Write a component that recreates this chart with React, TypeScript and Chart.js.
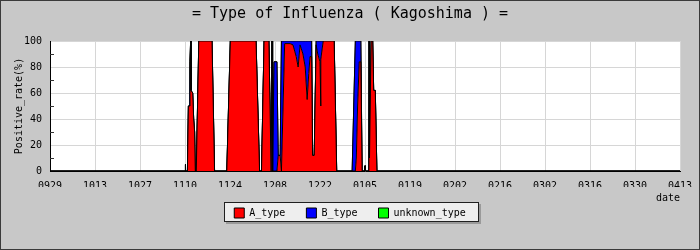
import React, { useEffect, useRef } from 'react';
import { Chart, registerables } from 'chart.js';

Chart.register(...registerables);

const titleText = '= Type of Influenza ( Kagoshima ) =';
const seriesNames = ['A_type', 'B_type', 'unknown_type'];
const seriesColors = ['#ff0000', '#0000ff', '#00ff00'];
const tickLabels = ['0929', '1013', '1027', '1110', '1124', '1208', '1222', '0105', '0119', '0202', '0216', '0302', '0316', '0330', '0413'];
const yTitle = 'Positive_rate(%)';
const xTitle = 'date';

// day offsets from 09/29
const days = [
  0, 42.0, 42.1, 42.2, 42.75, 43.05, 43.35, 43.55, 43.75, 43.85,
  44.4, 44.7, 45.0, 45.2, 45.5, 46.3, 50.4, 51.2, 55.0, 56.1,
  64.1, 65.2, 65.8, 66.6, 68.1, 68.8, 69.0, 69.1, 69.2, 69.3,
  69.7, 70.6, 71.0, 71.6, 72.0, 73.0, 74.7, 75.6, 76.6, 77.2,
  77.8, 78.7, 79.4, 80.0, 80.5, 80.9, 81.4, 81.7, 82.2, 82.8,
  83.3, 84.0, 84.2, 84.3, 85.0, 88.4, 89.2, 94.0, 95.0, 95.3,
  95.7, 96.2, 96.7, 97.1, 97.9, 98.0, 98.1, 99.2, 99.3, 99.4,
  99.9, 100.4, 100.7, 101.2, 101.7, 196,
];
const aType = [
  0, 0, 5, 0, 0, 50, 50, 84, 100, 62,
  60, 40, 30, 0, 0, 100, 100, 0, 0, 100,
  100, 0, 0, 100, 100, 0, 0, 100, 0, 0,
  0, 0, 12, 12, 0, 98, 98, 97, 88, 80,
  97, 90, 80, 55, 75, 88, 88, 12, 12, 97,
  90, 84, 50, 86, 100, 100, 0, 0, 0, 10,
  50, 84, 84, 0, 0, 4, 0, 0, 100, 10,
  100, 100, 62, 62, 0, 0,
];
const bType = [
  0, 0, 0, 0, 0, 0, 0, 0, 0, 0,
  0, 0, 0, 0, 0, 0, 0, 0, 0, 0,
  0, 0, 0, 0, 0, 0, 0, 0, 0, 0,
  84, 84, 0, 0, 100, 2, 2, 3, 12, 20,
  3, 10, 20, 45, 25, 12, 12, 0, 0, 3,
  10, 16, 50, 14, 0, 0, 0, 0, 100, 90,
  50, 16, 16, 0, 0, 0, 0, 0, 0, 0,
  0, 0, 0, 0, 0, 0,
];
const unknownType = [
  0, 0, 0, 0, 0, 0, 0, 0, 0, 0,
  0, 0, 0, 0, 0, 0, 0, 0, 0, 0,
  0, 0, 0, 0, 0, 0, 0, 0, 0, 0,
  0, 0, 0, 0, 0, 0, 0, 0, 0, 0,
  0, 0, 0, 0, 0, 0, 0, 0, 0, 0,
  0, 0, 0, 0, 0, 0, 0, 0, 0, 0,
  0, 0, 0, 0, 0, 0, 0, 0, 0, 0,
  0, 0, 0, 0, 0, 0,
];

const FONT = "'DejaVu Sans Mono', monospace";
const GRID = '#d6d6d6';

const framePlugin = {
  id: 'frame',
  beforeDraw(chart: any) {
    const { ctx, chartArea: a, width, height } = chart;
    ctx.save();
    ctx.fillStyle = '#c8c8c8';
    ctx.fillRect(0, 0, width, height);
    ctx.strokeStyle = '#3a3a3a';
    ctx.lineWidth = 1;
    ctx.strokeRect(0.5, 0.5, width - 1, height - 1);
    ctx.fillStyle = '#ffffff';
    ctx.fillRect(a.left, a.top, a.right - a.left, a.bottom - a.top);
    const hb = chart.legend && chart.legend.legendHitBoxes;
    if (hb && hb.length) {
      const last = hb[hb.length - 1];
      const l = Math.round(hb[0].left - 10);
      const t = Math.round(hb[0].top - 6);
      const r = Math.round(last.left + last.width + 13);
      const b = Math.round(hb[0].top + 14);
      ctx.fillStyle = '#9a9a9a';
      ctx.fillRect(l + 2, t + 2, r - l, b - t);
      ctx.fillStyle = '#eeeeee';
      ctx.fillRect(l, t, r - l, b - t);
      ctx.strokeStyle = '#202020';
      ctx.strokeRect(l + 0.5, t + 0.5, r - l - 1, b - t - 1);
    }
    ctx.restore();
  },
  beforeDatasetsDraw(chart: any) {
    const { ctx, chartArea: a, scales } = chart;
    ctx.save();
    ctx.strokeStyle = '#333333';
    ctx.lineWidth = 1;
    for (let v = 10; v < 100; v += 20) {
      const y = Math.round(scales.y.getPixelForValue(v)) + 0.5;
      ctx.beginPath();
      ctx.moveTo(a.left, y);
      ctx.lineTo(a.left + 4, y);
      ctx.stroke();
    }
    ctx.restore();
  },
};

export default function App() {
  const ref = useRef<HTMLCanvasElement>(null);
  useEffect(() => {
    if (!ref.current) return;
    const series = [aType, bType, unknownType];
    const font = { family: FONT, size: 10 };
    const chart = new Chart(ref.current, {
      type: 'line',
      data: {
        datasets: series.map((vals, i) => ({
          label: seriesNames[i],
          data: days.map((d, j) => ({ x: d, y: vals[j] })),
          backgroundColor: seriesColors[i],
          borderColor: '#000000',
          borderWidth: 1,
          fill: i === 0 ? 'origin' : '-1',
          pointRadius: 0,
          tension: 0,
        })),
      },
      options: {
        animation: false,
        responsive: false,
        devicePixelRatio: 1,
        layout: { padding: { top: 3, right: 4, bottom: 22, left: 4 } },
        plugins: {
          title: {
            display: true,
            text: titleText,
            color: '#000',
            font: { family: FONT, size: 15, weight: 'normal', lineHeight: 1.2 },
            padding: { top: 2, bottom: 18 },
          },
          legend: {
            position: 'bottom',
            labels: { font, color: '#000', boxWidth: 10, boxHeight: 10, padding: 21 },
          },
          tooltip: { enabled: false },
        },
        scales: {
          x: {
            type: 'linear',
            min: 0,
            max: 196,
            afterFit: (s: any) => { s.height = 16; s.paddingRight = 20; },
            grid: { color: GRID, drawTicks: false },
            border: { color: '#000' },
            ticks: {
              stepSize: 14,
              padding: 9,
              autoSkip: false,
              maxRotation: 0,
              maxTicksLimit: 30,
              font,
              color: '#000',
              callback: (v: any) => tickLabels[Math.round(Number(v) / 14)] ?? '',
            },
            title: { display: true, text: xTitle, align: 'end', font, color: '#000', padding: { top: 0, bottom: -17 } },
          },
          y: {
            stacked: true,
            min: 0,
            max: 100,
            afterFit: (s: any) => { s.width = 46; },
            grid: { color: GRID, drawTicks: false },
            border: { color: '#000' },
            ticks: { stepSize: 20, padding: 8, font, color: '#000' },
            title: { display: true, text: yTitle, font, color: '#000', padding: { top: 9, bottom: 0 } },
          },
        },
      } as any,
      plugins: [framePlugin],
    });
    return () => chart.destroy();
  }, []);
  return (
    <div style={{ position: 'fixed', left: 0, top: 0, width: 700, height: 250 }}>
      <canvas ref={ref} width={700} height={250} />
    </div>
  );
}
